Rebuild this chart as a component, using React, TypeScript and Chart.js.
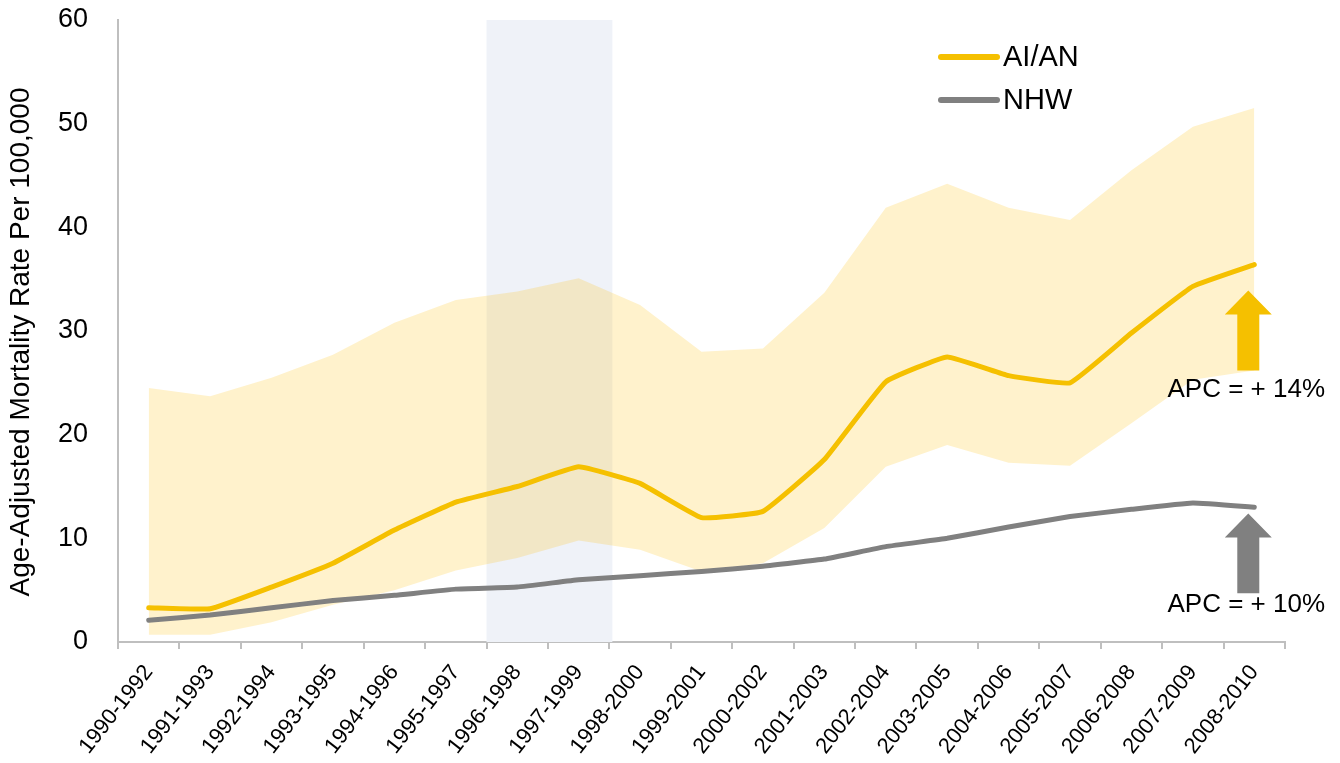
import React, { useEffect, useRef } from "react";
import { Chart, registerables } from "chart.js";

Chart.register(...registerables);

const categories = [
  "1990-1992", "1991-1993", "1992-1994", "1993-1995", "1994-1996", "1995-1997",
  "1996-1998", "1997-1999", "1998-2000", "1999-2001", "2000-2002", "2001-2003",
  "2002-2004", "2003-2005", "2004-2006", "2005-2007", "2006-2008", "2007-2009", "2008-2010",
];
const aianRate = [3.3, 3.2, 5.3, 7.6, 10.8, 13.5, 15.0, 16.9, 15.3, 12.0, 12.6, 17.6, 25.1, 27.5, 25.7, 25.0, 29.8, 34.3, 36.4];
const nhwRate = [2.1, 2.6, 3.3, 4.0, 4.5, 5.1, 5.3, 6.0, 6.4, 6.8, 7.3, 8.0, 9.2, 10.0, 11.1, 12.1, 12.8, 13.4, 13.0];
const aianUpper = [24.5, 23.7, 25.5, 27.7, 30.8, 33.0, 33.8, 35.1, 32.5, 28.0, 28.3, 33.7, 41.9, 44.2, 41.9, 40.7, 45.5, 49.7, 51.5];
const aianLower = [0.7, 0.7, 1.9, 3.6, 5.0, 6.9, 8.1, 9.8, 8.9, 6.8, 7.6, 11.0, 16.9, 19.0, 17.3, 17.0, 21.1, 25.3, 26.2];
const yTicks = [0, 10, 20, 30, 40, 50, 60];
const yTitle = "Age-Adjusted Mortality Rate Per 100,000";
const highlightRange = ["1996-1998", "1997-1999"];
const seriesNames = ["AI/AN", "NHW"];
const apcLabels = ["APC = + 14%", "APC = + 10%"];
// arrow [base, tip] in data units, and label centre in data units
const apcArrows = [[26.2, 33.9], [4.7, 12.4]];
const apcLabelValues = [24.3, 3.6];

const FONT = "'Liberation Sans', Arial, sans-serif";
const GOLD = "#f5c000";
const GRAY = "#808080";
const AXIS = "#bfbfbf";

const overlayPlugin = {
  id: "overlay",
  beforeDatasetsDraw(chart: any) {
    const { ctx, chartArea, scales } = chart;
    const x = scales.x;
    const i0 = categories.indexOf(highlightRange[0]);
    const i1 = categories.indexOf(highlightRange[1]);
    const half = (x.getPixelForValue(1) - x.getPixelForValue(0)) / 2;
    const left = x.getPixelForValue(i0) - half;
    const right = x.getPixelForValue(i1) + half + 3;
    ctx.save();
    ctx.fillStyle = "#eff2f8";
    ctx.fillRect(left, chartArea.top, right - left, chartArea.bottom - chartArea.top);
    ctx.restore();
  },
  afterDatasetsDraw(chart: any) {
    const { ctx, scales, chartArea } = chart;
    const x = scales.x;
    const y = scales.y;
    const colors = [GOLD, GRAY];
    const last = categories.length - 1;
    const cx = x.getPixelForValue(last) - 6;
    ctx.save();
    apcArrows.forEach((a, k) => {
      const yb = y.getPixelForValue(a[0]);
      const yt = y.getPixelForValue(a[1]);
      const headH = 24;
      ctx.fillStyle = colors[k];
      ctx.beginPath();
      ctx.moveTo(cx - 11, yb);
      ctx.lineTo(cx - 11, yt + headH);
      ctx.lineTo(cx - 23.5, yt + headH);
      ctx.lineTo(cx, yt);
      ctx.lineTo(cx + 23.5, yt + headH);
      ctx.lineTo(cx + 11, yt + headH);
      ctx.lineTo(cx + 11, yb);
      ctx.closePath();
      ctx.fill();
      ctx.fillStyle = "#000";
      ctx.font = `26px ${FONT}`;
      ctx.textAlign = "center";
      ctx.textBaseline = "middle";
      ctx.fillText(apcLabels[k], cx - 2, y.getPixelForValue(apcLabelValues[k]));
    });
    // legend
    const lx0 = 938, lx1 = 1000;
    const lys = [57, 100];
    seriesNames.forEach((name, k) => {
      ctx.strokeStyle = colors[k];
      ctx.lineWidth = 6;
      ctx.lineCap = "round";
      ctx.beginPath();
      ctx.moveTo(lx0 + 3, lys[k]);
      ctx.lineTo(lx1 - 3, lys[k]);
      ctx.stroke();
      ctx.fillStyle = "#000";
      ctx.font = `29px ${FONT}`;
      ctx.textAlign = "left";
      ctx.textBaseline = "middle";
      ctx.fillText(name, lx1 + 3, lys[k] + 1);
    });
    // y axis title
    ctx.translate(21, (chartArea.top + chartArea.bottom) / 2 + 11);
    ctx.rotate(-Math.PI / 2);
    ctx.fillStyle = "#000";
    ctx.font = `28px ${FONT}`;
    ctx.textAlign = "center";
    ctx.textBaseline = "middle";
    ctx.fillText(yTitle, 0, 0);
    ctx.restore();
  },
};

export default function App() {
  const ref = useRef<HTMLCanvasElement | null>(null);
  useEffect(() => {
    if (!ref.current) return;
    const chart = new Chart(ref.current, {
      type: "line",
      data: {
        labels: categories,
        datasets: [
          {
            label: seriesNames[0],
            data: aianRate,
            borderColor: GOLD,
            borderWidth: 5,
            borderCapStyle: "round",
            borderJoinStyle: "round",
            pointRadius: 0,
            tension: 0.1,
            fill: false,
          },
          {
            label: seriesNames[1],
            data: nhwRate,
            borderColor: GRAY,
            borderWidth: 5,
            borderCapStyle: "round",
            borderJoinStyle: "round",
            pointRadius: 0,
            tension: 0.1,
            fill: false,
          },
          {
            label: "upper",
            data: aianUpper,
            borderWidth: 0,
            borderColor: "rgba(0,0,0,0)",
            backgroundColor: "rgba(255,192,0,0.2)",
            pointRadius: 0,
            fill: "+1",
          },
          {
            label: "lower",
            data: aianLower,
            borderWidth: 0,
            borderColor: "rgba(0,0,0,0)",
            pointRadius: 0,
            fill: false,
          },
        ],
      },
      options: {
        responsive: false,
        animation: false,
        layout: { padding: { left: 0, top: 20, right: 55, bottom: 0 } },
        plugins: {
          legend: { display: false },
          tooltip: { enabled: false },
        },
        scales: {
          x: {
            type: "category",
            offset: true,
            grid: {
              display: true,
              drawOnChartArea: false,
              offset: true,
              tickLength: 7,
              color: AXIS,
              lineWidth: 2,
            },
            border: { display: true, color: AXIS, width: 2 },
            ticks: {
              autoSkip: false,
              maxRotation: 52,
              minRotation: 52,
              padding: 11,
              color: "#000",
              font: { family: FONT, size: 22 },
            },
            afterFit(scale: any) {
              scale.height = 121;
              scale.paddingLeft = 0;
              scale.paddingRight = 0;
            },
          },
          y: {
            min: 0,
            max: 60,
            afterBuildTicks(scale: any) {
              scale.ticks = yTicks.map((v) => ({ value: v }));
            },
            grid: { display: false, drawTicks: false },
            border: { display: true, color: AXIS, width: 2 },
            ticks: {
              padding: 30,
              color: "#000",
              font: { family: FONT, size: 27 },
            },
            afterFit(scale: any) {
              scale.width = 118;
              scale.paddingTop = 0;
              scale.paddingBottom = 0;
            },
          },
        },
      },
      plugins: [overlayPlugin],
    } as any);
    return () => chart.destroy();
  }, []);
  return (
    <div style={{ position: "fixed", left: 0, top: 0, width: 1340, height: 763, background: "#fff" }}>
      <canvas ref={ref} width={1340} height={763} />
    </div>
  );
}
